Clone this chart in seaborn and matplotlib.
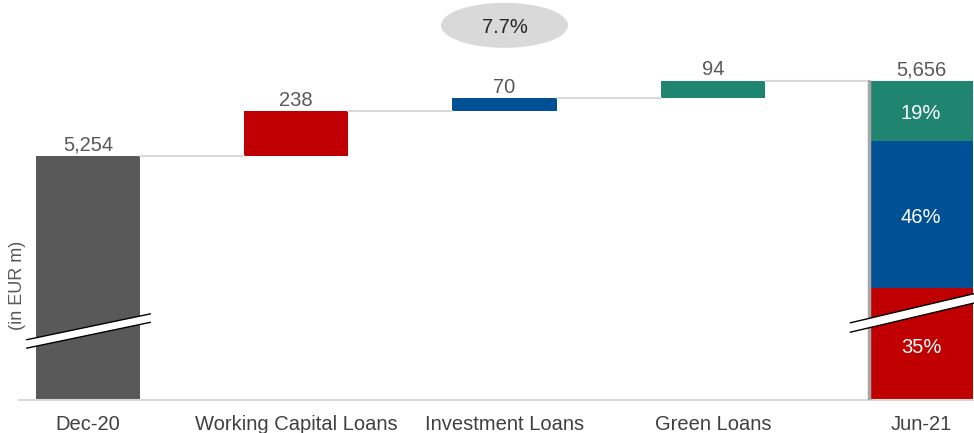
import numpy as np
import pandas as pd
import matplotlib
matplotlib.use("Agg")
import matplotlib.pyplot as plt
from matplotlib.patches import Ellipse, Polygon
import seaborn as sns

categories = ["Dec-20", "Working Capital Loans", "Investment Loans", "Green Loans", "Jun-21"]
start_value = 5254
increments = [238, 70, 94]
end_value = 5656
growth_label = "7.7%"
mix_labels = ["35%", "46%", "19%"]
mix_shares = [0.35, 0.46, 0.19]

c_total = "#595959"
c_red = "#C00000"
c_blue = "#005096"
c_green = "#1F8570"
inc_colors = [c_red, c_blue, c_green]

sns.set_theme(style="white")
plt.rcParams["font.family"] = ["Liberation Sans", "DejaVu Sans"]

fig = plt.figure(figsize=(9.74, 4.33), dpi=100)
ax = fig.add_axes([0, 1 - 400 / 433, 1, 400 / 433])

ymin, ymax = 3954, 6085
w = 0.5
fs = 14.5

# cumulative levels
levels = np.cumsum([start_value] + increments)

# Dec-20 total
sns.barplot(x=[categories[0]], y=[start_value], order=categories, color=c_total,
            width=w, saturation=1, ax=ax, linewidth=0)

# increments (floating bars)
for i, (inc, col) in enumerate(zip(increments, inc_colors)):
    sns.barplot(x=[categories[i + 1]], y=[inc], bottom=levels[i], order=categories,
                color=col, width=w, saturation=1, ax=ax, linewidth=0)

# Jun-21 stacked mix (shares of visible height)
seg_tops = ymin + np.cumsum(mix_shares) * (end_value - ymin)
seg_bottoms = np.concatenate([[0], seg_tops[:-1]])
for b, t, col in zip(seg_bottoms, seg_tops, inc_colors):
    sns.barplot(x=[categories[4]], y=[t - b], bottom=b, order=categories,
                color=col, width=w, saturation=1, ax=ax, linewidth=0)

ax.set_ylim(ymin, ymax)
ax.set_xlim(-88 / 208.25, 4 + 53 / 208.25)

# connectors
conn = list(levels) + [end_value]
for i in range(4):
    ax.plot([i + w / 2, i + 1 - w / 2], [conn[i], conn[i]], color="#d9d9d9", lw=1.5, zorder=1)
ax.plot([4 - w / 2, 4 - w / 2], [ymin, end_value], color="#a6a6a6", lw=2.5, zorder=3)

# value labels
tops = [start_value] + list(levels[1:]) + [end_value]
labels = [f"{start_value:,}"] + [str(v) for v in increments] + [f"{end_value:,}"]
for i, (t, lab) in enumerate(zip(tops, labels)):
    ax.text(i, t + 8, lab, ha="center", va="bottom", fontsize=fs, color="#595959")

# mix labels
for b, t, lab in zip([ymin] + list(seg_tops[:-1]), seg_tops, mix_labels):
    ax.text(4, (b + t) / 2 - 5, lab, ha="center", va="center_baseline", fontsize=fs, color="white")

# growth bubble
ell = Ellipse((2, 5950), 0.61, 240, facecolor="#d9d9d9", edgecolor="none", zorder=4)
ax.add_patch(ell)
ax.text(2, 5950, growth_label, ha="center", va="center_baseline", fontsize=fs, color="#262626", zorder=5)

# axis break marks
def break_mark(x0, x1, y0, y1, gap):
    poly = Polygon([(x0, y0), (x1, y1), (x1, y1 - gap), (x0, y0 - gap)],
                   closed=True, facecolor="white", edgecolor="none", zorder=6, clip_on=False)
    ax.add_patch(poly)
    ax.plot([x0, x1], [y0, y1], color="black", lw=1, zorder=7, clip_on=False)
    ax.plot([x0, x1], [y0 - gap, y1 - gap], color="black", lw=1, zorder=7, clip_on=False)

break_mark(-0.295, 0.30, 4275, 4413, 45)
break_mark(3.66, 4.26, 4365, 4522, 50)

# axes styling
for s in ["top", "right", "left", "bottom"]:
    ax.spines[s].set_visible(False)
ax.plot([-0.33, 4.26], [ymin, ymin], color="#d9d9d9", lw=1.5, clip_on=False, zorder=2)
ax.set_yticks([])
ax.set_xlabel("")
ax.set_ylabel("")
ax.tick_params(axis="x", length=0, labelsize=fs, colors="#404040", pad=11)
fig.text(18 / 974, 1 - 285 / 433, "(in EUR m)", rotation=90, ha="center", va="center",
         fontsize=13, color="#595959")

fig.savefig("out.png", dpi=100)
